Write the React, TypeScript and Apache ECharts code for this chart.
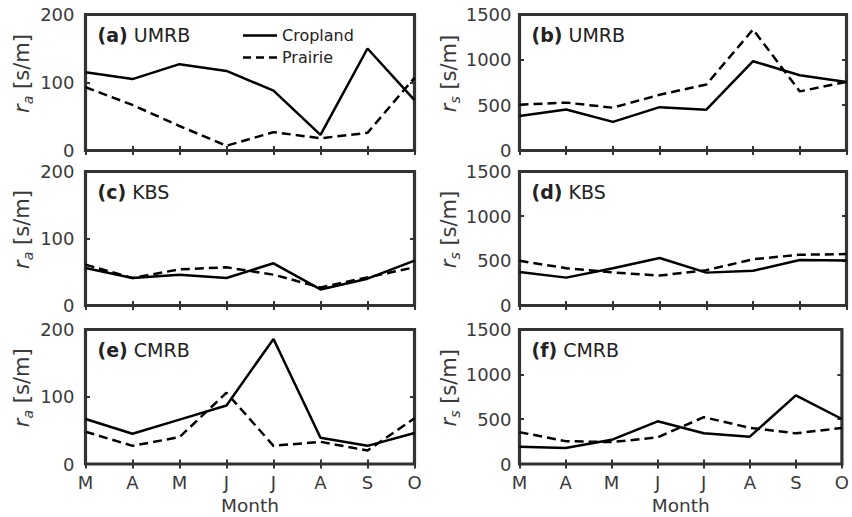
import React, { useEffect, useRef } from "react";
import * as echarts from "echarts";

const months = ["M", "A", "M", "J", "J", "A", "S", "O"];

const raTicks = [0, 100, 200];
const rsTicks = [0, 500, 1000, 1500];

const umrbRaCrop = [115, 105, 127, 117, 88, 23, 150, 74];
const umrbRaPrairie = [93, 67, 36, 7, 27, 18, 26, 107];
const umrbRsCrop = [380, 452, 316, 478, 450, 985, 830, 756];
const umrbRsPrairie = [505, 528, 472, 615, 728, 1335, 652, 756];
const kbsRaCrop = [56, 41, 46, 41, 63, 24, 40, 67];
const kbsRaPrairie = [61, 41, 54, 57, 46, 27, 42, 57];
const kbsRsCrop = [375, 312, 418, 532, 368, 388, 510, 505];
const kbsRsPrairie = [500, 418, 370, 335, 395, 518, 568, 576];
const cmrbRaCrop = [67, 45, 66, 87, 186, 39, 27, 46];
const cmrbRaPrairie = [48, 27, 40, 106, 27, 33, 20, 68];
const cmrbRsCrop = [192, 178, 270, 476, 342, 305, 766, 502];
const cmrbRsPrairie = [355, 255, 244, 297, 522, 404, 342, 402];

const panelLabels = ["(a)", "(b)", "(c)", "(d)", "(e)", "(f)"];
const siteNames = ["UMRB", "UMRB", "KBS", "KBS", "CMRB", "CMRB"];
const seriesNames = ["Cropland", "Prairie"];

const panelData = [
  [umrbRaCrop, umrbRaPrairie],
  [umrbRsCrop, umrbRsPrairie],
  [kbsRaCrop, kbsRaPrairie],
  [kbsRsCrop, kbsRsPrairie],
  [cmrbRaCrop, cmrbRaPrairie],
  [cmrbRsCrop, cmrbRsPrairie],
];

const FONT = "DejaVu Sans";
const TXT = "#3a3a3a";
const FRAME = "#333";

const colsX = [85.5, 519.5];
const colsW = [329, 327];
const rowsY = [14.5, 171.5, 329.5];
const rowsH = [136, 134, 134.5];

const solidIcon = "path://M0,0H34V2.5H0Z";
const dashIcon = "path://M0,0H8V2.5H0Z M13,0H21V2.5H13Z M26,0H34V2.5H26Z";

export default function App() {
  const ref = useRef<HTMLDivElement>(null);
  useEffect(() => {
    if (!ref.current) return;
    const chart = echarts.init(ref.current, null, { renderer: "svg" });
    const grids: any[] = [];
    const xAxes: any[] = [];
    const yAxes: any[] = [];
    const series: any[] = [];
    const graphics: any[] = [];
    for (let p = 0; p < 6; p++) {
      const row = Math.floor(p / 2);
      const col = p % 2;
      const isRs = col === 1;
      const ticks = isRs ? rsTicks : raTicks;
      const bottomRow = row === 2;
      grids.push({
        left: colsX[col],
        top: rowsY[row],
        width: colsW[col],
        height: rowsH[row],
        show: true,
        borderColor: FRAME,
        borderWidth: 3.2,
        backgroundColor: "transparent",
      });
      const tick = { show: true, inside: true, length: 4.5, interval: 0, lineStyle: { color: FRAME, width: 2 } };
      xAxes.push({
        type: "category",
        gridIndex: p,
        data: months,
        boundaryGap: false,
        position: "bottom",
        axisLine: { show: false },
        axisTick: tick,
        axisLabel: {
          show: bottomRow,
          interval: 0,
          fontSize: 18,
          fontFamily: FONT,
          color: TXT,
          margin: 9,
        },
        name: bottomRow ? "Month" : "",
        nameLocation: "middle",
        nameGap: 32,
        nameTextStyle: { fontSize: 18.5, fontFamily: FONT, color: TXT },
      });
      xAxes.push({
        type: "category",
        gridIndex: p,
        data: months,
        boundaryGap: false,
        position: "top",
        axisLine: { show: false },
        axisTick: tick,
        axisLabel: { show: false },
      });
      const sub = isRs ? "s" : "a";
      yAxes.push({
        type: "value",
        gridIndex: p,
        min: ticks[0],
        max: ticks[ticks.length - 1],
        interval: ticks[1] - ticks[0],
        position: "left",
        axisLine: { show: false },
        axisTick: tick,
        splitLine: { show: false },
        axisLabel: {
          fontSize: 18,
          fontFamily: FONT,
          color: TXT,
          margin: isRs ? 8 : 11,
          formatter: (v: number) => String(v),
        },
        name: `{i|r}{s|${sub}}{n| [s/m]}`,
        nameLocation: "middle",
        nameRotate: 90,
        nameGap: isRs ? 54 : 51,
        nameTextStyle: {
          color: TXT,
          fontFamily: FONT,
          rich: {
            i: { fontSize: 21, fontStyle: "italic", fontFamily: FONT, color: TXT, lineHeight: 26, padding: [0, 0, 0, 18] },
            s: { fontSize: 14, fontStyle: "italic", fontFamily: FONT, color: TXT, lineHeight: 13, verticalAlign: "bottom" },
            n: { fontSize: 21, fontFamily: FONT, color: TXT, lineHeight: 26 },
          },
        },
      });
      yAxes.push({
        type: "value",
        gridIndex: p,
        min: ticks[0],
        max: ticks[ticks.length - 1],
        interval: ticks[1] - ticks[0],
        position: "right",
        axisLine: { show: false },
        axisTick: tick,
        splitLine: { show: false },
        axisLabel: { show: false },
      });
      for (let s = 0; s < 2; s++) {
        series.push({
          type: "line",
          name: seriesNames[s],
          xAxisIndex: p * 2,
          yAxisIndex: p * 2,
          data: panelData[p][s],
          symbol: "none",
          lineStyle: { color: "#000", width: 2.5, type: s === 0 ? "solid" : [9, 5] },
          itemStyle: { color: "#000" },
          z: 3,
        });
      }
      graphics.push({
        type: "text",
        left: colsX[col] + 12,
        top: rowsY[row] + 11,
        style: {
          text: `{b|${panelLabels[p]}} ${siteNames[p]}`,
          fontSize: 19,
          fontFamily: FONT,
          fill: "#222",
          rich: {
            b: { fontSize: 19, fontWeight: "bold", fontFamily: FONT, fill: "#222" },
          },
        },
      });
    }
    chart.setOption({
      animation: false,
      backgroundColor: "#fff",
      grid: grids,
      xAxis: xAxes,
      yAxis: yAxes,
      series,
      graphic: graphics,
      legend: {
        data: [
          { name: seriesNames[0], icon: solidIcon },
          { name: seriesNames[1], icon: dashIcon },
        ],
        orient: "vertical",
        left: 243,
        top: 26,
        padding: 0,
        itemWidth: 34,
        itemHeight: 2.5,
        itemGap: 3,
        textStyle: { fontSize: 16, fontFamily: FONT, color: "#222", lineHeight: 19 },
      },
    });
    return () => chart.dispose();
  }, []);
  return (
    <div
      ref={ref}
      style={{ position: "absolute", left: 0, top: 0, width: 852, height: 517 }}
    />
  );
}
